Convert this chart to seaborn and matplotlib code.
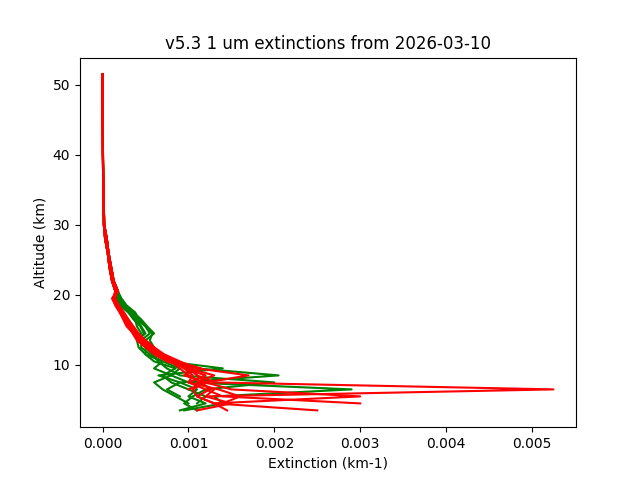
import numpy as np
import matplotlib
matplotlib.use("Agg")
import matplotlib.pyplot as plt
import seaborn as sns

alt = [3.5, 4.5, 5.5, 6.5, 7.5, 8.5, 9.5, 10.5, 11.5, 12.5, 13.5, 14.5, 15.5, 16.5,
       17.5, 18.5, 19.5, 20.5, 22, 24, 26, 28, 30, 35, 40, 45, 51.5]
N = np.nan
upper_a = [0.15, 0.11, 0.08, 0.06, 0.03, 0.015, 0.008, 0.004, 0.002, 0.0]
upper_b = [0.18, 0.13, 0.10, 0.07, 0.05, 0.02, 0.010, 0.005, 0.003, 0.001]

# extinction in 1e-3 km-1
green = [
    [0.9, 1.2, 1.0, 1.1, 0.9, 2.05, 1.1, 0.8, 0.6, 0.55, 0.4, 0.5, 0.45, 0.4, 0.35, 0.25, 0.2] + upper_a,
    [0.95, 1.4, 1.3, 2.9, 1.0, 0.8, 0.9, 0.7, 0.55, 0.45, 0.45, 0.55, 0.5, 0.42, 0.38, 0.28, 0.22] + upper_b,
    [N, 1.1, 1.2, 1.0, 0.8, 0.7, 0.85, 0.6, 0.5, 0.5, 0.42, 0.48, 0.44, 0.36, 0.3, 0.22, 0.17] + upper_a,
    [N, N, 0.9, 0.75, 0.9, 0.65, 1.4, 0.75, 0.65, 0.6, 0.55, 0.58, 0.5, 0.4, 0.33, 0.24, 0.19] + upper_b,
    [N, 1.0, 0.85, 0.7, 0.6, 0.8, 0.6, 0.7, 0.5, 0.42, 0.4, 0.45, 0.4, 0.38, 0.3, 0.2, 0.16] + upper_a,
    [1.1, 0.95, 1.05, 1.2, 2.0, 0.9, 0.75, 0.65, 0.58, 0.5, 0.5, 0.6, 0.52, 0.45, 0.36, 0.27, 0.2] + upper_b,
]
red = [
    [N, N, 1.2, 5.25, 1.3, 1.1, 1.0, 0.75, 0.6, 0.5, 0.4, 0.35, 0.3, 0.25, 0.2, 0.15, 0.12] + upper_a,
    [N, 1.3, 3.0, 1.5, 1.2, 1.1, 1.05, 0.8, 0.65, 0.55, 0.45, 0.38, 0.32, 0.28, 0.22, 0.17, 0.13] + upper_b,
    [N, 3.0, 1.4, 1.2, 1.0, 1.2, 0.95, 0.85, 0.7, 0.6, 0.5, 0.4, 0.35, 0.3, 0.24, 0.18, 0.14] + upper_a,
    [2.5, 1.3, 1.1, 1.25, 1.15, 1.0, 0.9, 0.8, 0.62, 0.52, 0.42, 0.36, 0.28, 0.24, 0.2, 0.15, 0.11] + upper_b,
    [N, N, N, 1.0, 1.2, 1.7, 1.1, 0.9, 0.72, 0.6, 0.5, 0.42, 0.36, 0.3, 0.25, 0.19, 0.15] + upper_a,
    [1.45, 1.3, 1.1, 1.05, 1.2, 0.95, 1.15, 0.85, 0.68, 0.58, 0.48, 0.4, 0.33, 0.27, 0.22, 0.16, 0.12] + upper_b,
    [1.1, 1.5, 1.2, 1.3, 1.1, 1.3, 1.0, 0.78, 0.66, 0.54, 0.44, 0.37, 0.3, 0.26, 0.21, 0.16, 0.12] + upper_a,
    [N, 1.4, 1.6, 1.35, 1.0, 1.05, 0.95, 0.82, 0.7, 0.57, 0.47, 0.39, 0.34, 0.29, 0.23, 0.17, 0.13] + upper_b,
]

fig, ax = plt.subplots(figsize=(6.4, 4.8), dpi=100)
for prof in green:
    sns.lineplot(x=np.array(prof) * 1e-3, y=alt, sort=False, color="green", ax=ax, estimator=None)
for prof in red:
    sns.lineplot(x=np.array(prof) * 1e-3, y=alt, sort=False, color="red", ax=ax, estimator=None)
ax.set_xlabel("Extinction (km-1)")
ax.set_ylabel("Altitude (km)")
ax.set_title("v5.3 1 um extinctions from 2026-03-10")
ax.set_xticks([0, 0.001, 0.002, 0.003, 0.004, 0.005])
fig.savefig("out.png")
